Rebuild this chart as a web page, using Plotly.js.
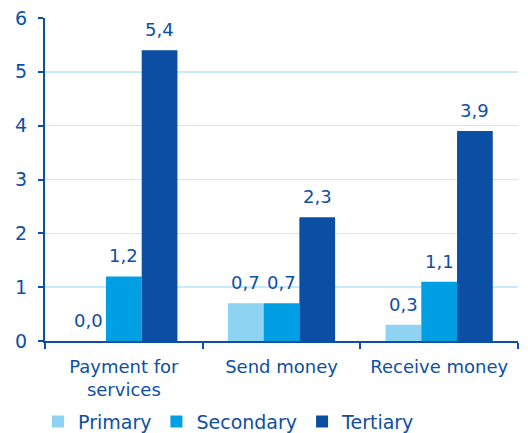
<!DOCTYPE html>
<html><head><meta charset="utf-8">
<script src="https://cdn.plot.ly/plotly-3.0.1.min.js"></script>
<style>html,body{margin:0;padding:0;background:#fff}#chart{width:528px;height:433px}</style>
</head><body><div id="chart"></div>
<script>
const categories = ["Payment for<br>services", "Send money", "Receive money"];
const seriesNames = ["Primary", "Secondary", "Tertiary"];
const primary = [0.0, 0.7, 0.3];
const secondary = [1.2, 0.7, 1.1];
const tertiary = [5.4, 2.3, 3.9];
const yTicks = [0, 1, 2, 3, 4, 5, 6];

const colors = ["#8ed3f2", "#009fe3", "#0b4fa5"];
const txt = "#0d4fa3";
const fam = "DejaVu Sans, Verdana, sans-serif";
const bargap = 0.32;
const vals = [primary, secondary, tertiary];
const traces = vals.map((v, i) => ({
  type: "bar", name: seriesNames[i], x: categories, y: v,
  marker: {color: colors[i], line: {width: 0}}
}));
const w = (1 - bargap) / vals.length;
const annotations = [];
vals.forEach((v, j) => v.forEach((y, i) => annotations.push({
  xref: "x", yref: "y", x: i + (j - (vals.length - 1) / 2) * w, y: y,
  text: y.toFixed(1).replace(".", ","), showarrow: false,
  yanchor: "bottom", yshift: 8,
  font: {family: fam, size: 18, color: txt}
})));
Plotly.newPlot("chart", traces, {
  width: 528, height: 433,
  margin: {l: 45, r: 10, t: 18, b: 92, autoexpand: false},
  separators: ", ",
  bargap: bargap, bargroupgap: 0,
  font: {family: fam, size: 17, color: txt},
  paper_bgcolor: "#fff", plot_bgcolor: "#fff",
  showlegend: true,
  annotations: annotations,
  legend: {orientation: "h", xref: "container", x: 0.072, xanchor: "left", yref: "container", y: 0.026, yanchor: "middle",
           font: {family: fam, size: 19, color: txt}, itemwidth: 30, traceorder: "normal"},
  xaxis: {showline: true, linecolor: txt, linewidth: 2, ticks: "outside", tickson: "boundaries",
          ticklen: 6, tickcolor: txt, tickwidth: 2, showgrid: false, ticklabelstandoff: 8,
          tickfont: {family: fam, size: 18, color: txt}},
  yaxis: {range: [0, 6], tickvals: yTicks, showline: true, linecolor: txt, linewidth: 2,
          ticks: "outside", ticklen: 5, tickcolor: txt, tickwidth: 2, ticklabelstandoff: 7,
          showgrid: true, gridcolor: "#c9ebf9", gridwidth: 1.5, zeroline: false,
          tickfont: {family: fam, size: 19, color: txt}}
}, {displayModeBar: false, staticPlot: true});
</script></body></html>
